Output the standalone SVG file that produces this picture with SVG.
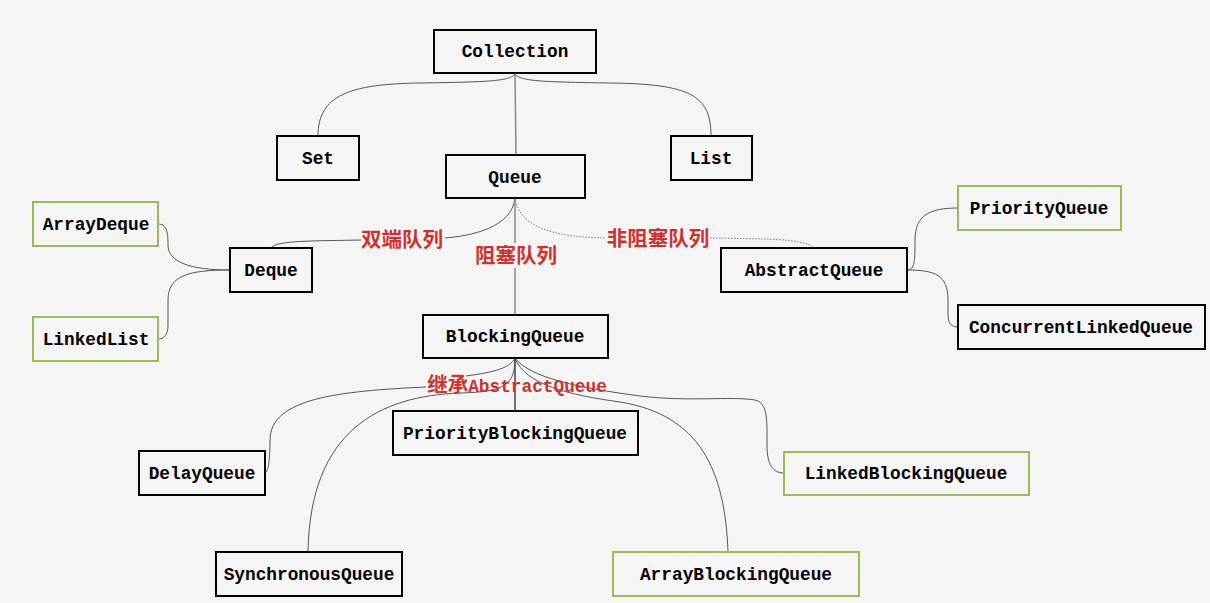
<svg xmlns="http://www.w3.org/2000/svg" width="1210" height="603" viewBox="0 0 1210 603">
<style>
.box{fill:#f5f5f5;stroke:#000;stroke-width:2}
.gbox{fill:#f5f5f5;stroke:#9bbb59;stroke-width:2}
.t{font-family:"Liberation Mono","DejaVu Sans Mono",monospace;font-size:17.8px;font-weight:bold;fill:#000;text-anchor:middle}
.c{fill:none;stroke:#555;stroke-width:1}
.cg{fill:none;stroke:#888;stroke-width:1.5}
.cd{fill:none;stroke:#777;stroke-width:1;stroke-dasharray:1.5 1.5}
.lbl{font-family:"Noto Sans CJK SC","Noto Sans CJK JP",sans-serif;font-size:20.5px;font-weight:bold;fill:#d0312d;text-anchor:middle}
.lm{font-family:"Liberation Mono","DejaVu Sans Mono",monospace;font-size:17.8px;font-weight:bold}
</style>
<rect width="1210" height="603" fill="#f5f5f5"/>
<g id="connectors">
<path class="c" d="M515,74 C510,81 490,82 420,83 C350,84 318,95 318,136"/>
<path class="c" d="M515,74 C520,81 540,82 610,83 C690,84 711,95 711,136"/>
<path class="cg" d="M515,73 L516,155"/>
<path class="c" d="M515,198 C512,228 470,236 445,238 M361,240 C320,241 275,240 271,248"/>
<path class="cd" d="M515,198 C520,230 560,237 605,238 M710,238 C760,239 805,238 814,248"/>
<path class="cg" d="M515,198 L515,243 M515,268 L515,315"/>
<path class="c" d="M158,224 C166,224 168,230 168,245 C168,262 190,270 230,270"/>
<path class="c" d="M230,270 C190,270 168,275 168,300 L168,325 C168,335 164,339 158,339"/>
<path class="c" d="M907,270 C915,270 915,260 915,240 C915,215 930,208 958,208"/>
<path class="c" d="M907,270 C935,270 948,275 948,300 L948,315 C948,325 953,327 958,327"/>
<path class="cg" d="M515,358 L515,411" style="stroke:#444"/>
<path class="c" d="M515,358 C510,368 495,372 466,376 M426,387 C340,391 270,398 270,440 C270,462 268,472 265,473"/>
<path class="c" d="M515,358 C515,385 505,392 460,393 C380,396 310,430 308,552"/>
<path class="c" d="M515,358 C530,378 580,388 640,396 C690,402 730,396 755,400 C768,403 767,420 767,445 C767,465 773,473 784,473"/>
<path class="c" d="M515,358 C525,385 570,395 620,402 C700,415 725,470 728,552"/>
<text class="lbl" x="402" y="247">双端队列</text>
<text class="lbl" x="516" y="263">阻塞队列</text>
<text class="lbl" x="658" y="246">非阻塞队列</text>
<text class="lbl" x="517" y="392">继承<tspan class="lm">AbstractQueue</tspan></text>
</g>
<g id="Collection"><rect class="box" x="434" y="30" width="162" height="43"/><text class="t" x="515" y="57">Collection</text></g>
<g id="Set"><rect class="box" x="277" y="136" width="82" height="44"/><text class="t" x="318" y="164">Set</text></g>
<g id="Queue"><rect class="box" x="446" y="155" width="139" height="43"/><text class="t" x="515" y="183">Queue</text></g>
<g id="List"><rect class="box" x="671" y="136" width="81" height="44"/><text class="t" x="711" y="164">List</text></g>
<g id="ArrayDeque"><rect class="gbox" x="33" y="202" width="125" height="44"/><text class="t" x="96" y="230">ArrayDeque</text></g>
<g id="Deque"><rect class="box" x="230" y="248" width="82" height="44"/><text class="t" x="271" y="276">Deque</text></g>
<g id="LinkedList"><rect class="gbox" x="33" y="317" width="125" height="44"/><text class="t" x="96" y="345">LinkedList</text></g>
<g id="AbstractQueue"><rect class="box" x="721" y="248" width="186" height="44"/><text class="t" x="814" y="276">AbstractQueue</text></g>
<g id="PriorityQueue"><rect class="gbox" x="958" y="186" width="163" height="44"/><text class="t" x="1039" y="214">PriorityQueue</text></g>
<g id="ConcurrentLinkedQueue"><rect class="box" x="958" y="305" width="247" height="44"/><text class="t" x="1081" y="333">ConcurrentLinkedQueue</text></g>
<g id="BlockingQueue"><rect class="box" x="423" y="315" width="185" height="43"/><text class="t" x="515" y="342">BlockingQueue</text></g>
<g id="PriorityBlockingQueue"><rect class="box" x="393" y="411" width="245" height="44"/><text class="t" x="515" y="439">PriorityBlockingQueue</text></g>
<g id="DelayQueue"><rect class="box" x="139" y="451" width="126" height="44"/><text class="t" x="202" y="479">DelayQueue</text></g>
<g id="LinkedBlockingQueue"><rect class="gbox" x="784" y="452" width="245" height="43"/><text class="t" x="906" y="479">LinkedBlockingQueue</text></g>
<g id="SynchronousQueue"><rect class="box" x="216" y="552" width="186" height="44"/><text class="t" x="309" y="580">SynchronousQueue</text></g>
<g id="ArrayBlockingQueue"><rect class="gbox" x="613" y="552" width="246" height="44"/><text class="t" x="736" y="580">ArrayBlockingQueue</text></g>
</svg>
